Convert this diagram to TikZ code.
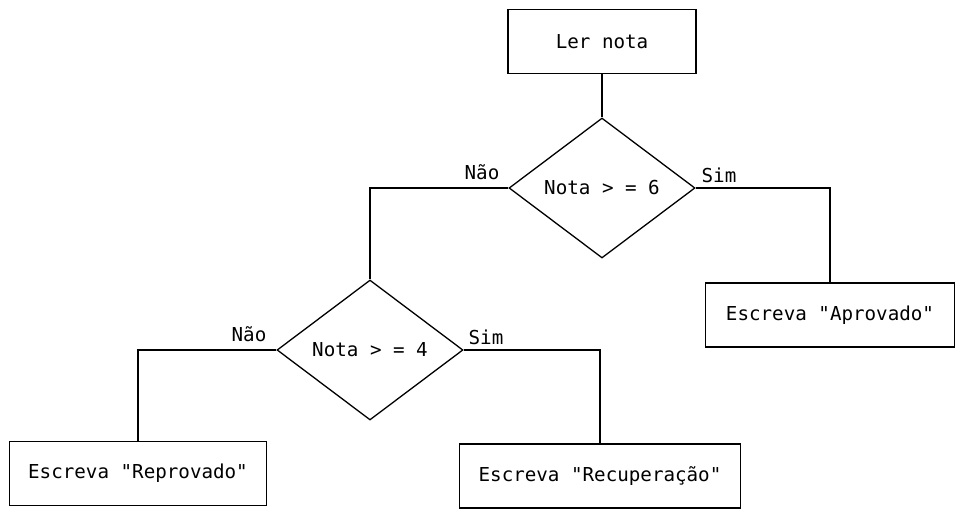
\documentclass[tikz,border=0pt]{standalone}
\usepackage{fontspec}
\setmonofont{DejaVu Sans Mono}
\usetikzlibrary{shapes.geometric}
\begin{document}
\begin{tikzpicture}[x=1pt,y=-1pt,line width=1.3pt,
	every node/.style = {font=\ttfamily\fontsize{19.2}{22}\selectfont},
	box node/.style = {rectangle,draw,inner sep=0pt,minimum height=64pt},
	test node/.style = {diamond,draw,inner sep=0pt,minimum width=186pt,minimum height=140pt}]
	\useasboundingbox (0,0) rectangle (965,518);
	
	\node[box node,minimum width=188pt] (ler) at (602,41.5) {Ler nota};
	\node[test node] (t6) at (602,188) {Nota > = 6};
	\node[box node,minimum width=249pt] (aprov) at (830,315) {Escreva "Aprovado"};
	\node[test node] (t4) at (370,350) {Nota > = 4};
	\node[box node,minimum width=257pt] (reprov) at (138,473.5) {Escreva "Reprovado"};
	\node[box node,minimum width=281pt] (recup) at (600,476) {Escreva "Recuperação"};
	
	\node at (482,172) (nao6) {Não};
	\node at (719,175) (sim6) {Sim};
	\node at (249,334) (nao4) {Não};
	\node at (486,337) (sim4) {Sim};
	
	\draw (ler) -- (t6);
	\draw (t6.west) -| (t4.north);
	\draw (t6.east) -| (aprov.north);
	\draw (t4.west) -| (reprov.north);
	\draw (t4.east) -| (recup.north);
	
\end{tikzpicture}
\end{document}
